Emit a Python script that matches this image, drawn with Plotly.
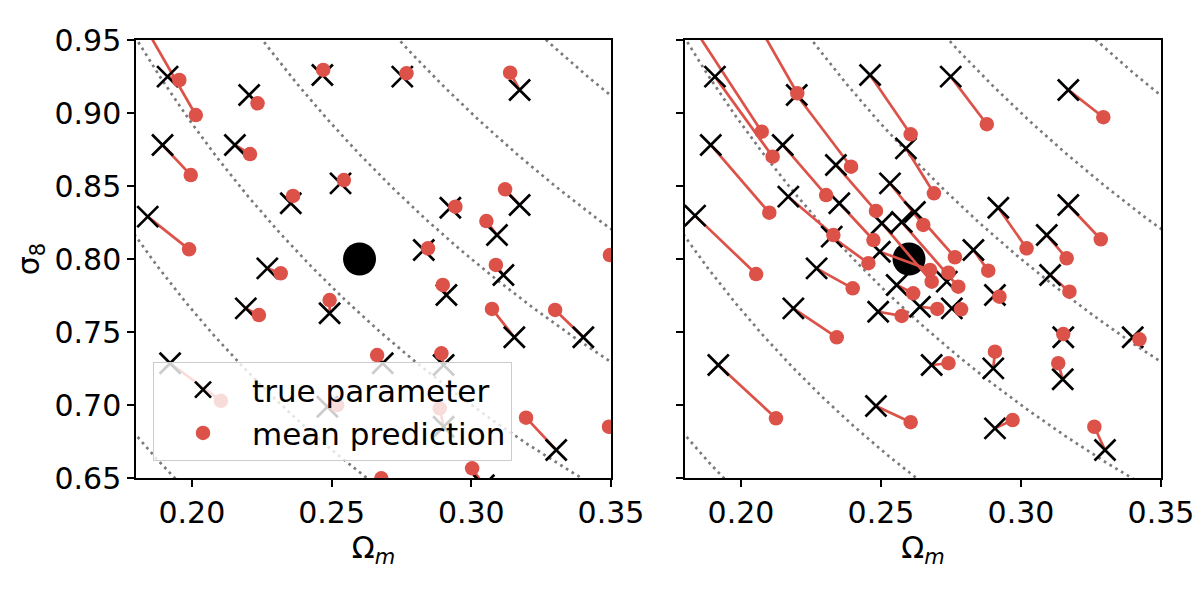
import numpy as np
import plotly.graph_objects as go

# ---------------- data ----------------
# left panel: true parameters and mean predictions
left_true_om = [0.1913, 0.1811, 0.2205, 0.2467, 0.2753, 0.3173, 0.1895, 0.2154, 0.2354, 0.2532,
                0.1842, 0.2925, 0.3173, 0.3092, 0.2830, 0.3600, 0.2270, 0.2193, 0.2493, 0.2911,
                0.3115, 0.3154, 0.3401, 0.1922, 0.2683, 0.2901, 0.2485, 0.2901, 0.3304, 0.3600,
                0.3045, 0.2700]
left_true_s8 = [0.9249, 0.9662, 0.9123, 0.9260, 0.9249, 0.9158, 0.8781, 0.8781, 0.8382, 0.8518,
                0.8290, 0.8351, 0.8370, 0.8164, 0.8062, 0.7900, 0.7936, 0.7662, 0.7628, 0.7753,
                0.7890, 0.7464, 0.7464, 0.7286, 0.7286, 0.7274, 0.6988, 0.6851, 0.6692, 0.6700,
                0.6450, 0.6350]
left_pred_om = [0.1955, 0.2014, 0.2235, 0.2470, 0.2768, 0.3139, 0.1996, 0.2208, 0.2362, 0.2544,
                0.1990, 0.2943, 0.3121, 0.3054, 0.2845, 0.3496, 0.2318, 0.2240, 0.2493, 0.2898,
                0.3088, 0.3074, 0.3300, 0.2104, 0.2663, 0.2893, 0.2520, 0.2887, 0.3196, 0.3493,
                0.3003, 0.2678]
left_pred_s8 = [0.9226, 0.8986, 0.9066, 0.9295, 0.9272, 0.9276, 0.8575, 0.8719, 0.8432, 0.8541,
                0.8066, 0.8358, 0.8477, 0.8260, 0.8073, 0.8027, 0.7902, 0.7616, 0.7719, 0.7822,
                0.7959, 0.7658, 0.7651, 0.7029, 0.7342, 0.7354, 0.7000, 0.6977, 0.6913, 0.6851,
                0.6566, 0.6498]

# right panel: true parameters and mean predictions
right_true_om = [0.1818, 0.1907, 0.2050, 0.2199, 0.2461, 0.2749, 0.3169, 0.1892, 0.2149, 0.2339,
                 0.2589, 0.2532, 0.1836, 0.2169, 0.2351, 0.2919, 0.3169, 0.3092, 0.2830,
                 0.2574, 0.2621, 0.2503, 0.2496, 0.2556, 0.2324, 0.2735, 0.2270, 0.2490, 0.2639,
                 0.2753, 0.2907, 0.3104, 0.2187, 0.3151, 0.3399, 0.1919, 0.2482, 0.2681, 0.2901,
                 0.3149, 0.2907, 0.3300]
right_true_s8 = [0.9623, 0.9249, 0.9644, 0.9123, 0.9260, 0.9249, 0.9158, 0.8781, 0.8781, 0.8644,
                 0.8758, 0.8518, 0.8297, 0.8427, 0.8382, 0.8351, 0.8370, 0.8164, 0.8062,
                 0.8253, 0.8322, 0.8245, 0.8050, 0.7822, 0.8153, 0.7845, 0.7936, 0.7639, 0.7673,
                 0.7662, 0.7753, 0.7890, 0.7662, 0.7464, 0.7464, 0.7274, 0.6993, 0.7274, 0.7251,
                 0.7176, 0.6840, 0.6692]
right_pred_om = [0.2074, 0.2113, 0.2201, 0.2393, 0.2606, 0.2878, 0.3294, 0.2101, 0.2304, 0.2482,
                 0.2689, 0.2651, 0.2054, 0.2330, 0.2473, 0.3020, 0.3285, 0.3163, 0.2883,
                 0.2776, 0.2764, 0.2681, 0.2675, 0.2615, 0.2455, 0.2741, 0.2399, 0.2574, 0.2701,
                 0.2786, 0.2923, 0.3173, 0.2342, 0.3151, 0.3423, 0.2125, 0.2606, 0.2741, 0.2907,
                 0.3133, 0.2970, 0.3262]
right_pred_s8 = [0.8872, 0.8701, 0.9135, 0.8632, 0.8854, 0.8923, 0.8971, 0.8317, 0.8438, 0.8329,
                 0.8450, 0.8233, 0.7897, 0.8164, 0.8130, 0.8073, 0.8135, 0.8005, 0.7920,
                 0.7810, 0.8012, 0.7845, 0.7925, 0.7765, 0.7971, 0.7906, 0.7799, 0.7610, 0.7658,
                 0.7655, 0.7742, 0.7776, 0.7464, 0.7486, 0.7450, 0.6909, 0.6882, 0.7286, 0.7365,
                 0.7286, 0.6897, 0.6851]

fiducial_om = [0.26]
fiducial_s8 = [0.80]

# degeneracy curves  sigma8 * (Om/0.3)^alpha = level
contour_levels = [0.5, 0.6, 0.7, 0.8, 0.9, 1.0]
contour_alpha = 0.6
contour_om_ref = 0.3

x_ticks = [0.20, 0.25, 0.30, 0.35]
y_ticks = [0.65, 0.70, 0.75, 0.80, 0.85, 0.90, 0.95]
x_range = [0.18, 0.35]
y_range = [0.65, 0.95]

RED = "#dc5248"
FONT = "DejaVu Sans"
FS = 30

fig = go.Figure()


def add_panel(true_om, true_s8, pred_om, pred_s8, xa, ya, legend):
    # degeneracy curves
    om_grid = np.linspace(0.17, 0.36, 300)
    for lev in contour_levels:
        fig.add_trace(go.Scatter(
            x=om_grid, y=lev * (om_grid / contour_om_ref) ** (-contour_alpha),
            mode="lines", line=dict(color="#7a7a7a", width=2.7, dash="2.7px,4.0px"),
            showlegend=False, hoverinfo="skip", xaxis=xa, yaxis=ya))
    # fiducial point
    fig.add_trace(go.Scatter(
        x=fiducial_om, y=fiducial_s8, mode="markers",
        marker=dict(color="black", size=33), showlegend=False, xaxis=xa, yaxis=ya))
    # connecting lines
    lx, ly = [], []
    for a, b, c, d in zip(true_om, true_s8, pred_om, pred_s8):
        lx += [a, c, None]
        ly += [b, d, None]
    fig.add_trace(go.Scatter(
        x=lx, y=ly, mode="lines", line=dict(color=RED, width=2.7),
        showlegend=False, hoverinfo="skip", xaxis=xa, yaxis=ya))
    # true parameters
    fig.add_trace(go.Scatter(
        x=true_om, y=true_s8, mode="markers", name="true parameter",
        marker=dict(symbol="x-thin", size=21, color="black",
                    line=dict(color="black", width=2.7)),
        showlegend=legend, xaxis=xa, yaxis=ya))
    # mean predictions
    fig.add_trace(go.Scatter(
        x=pred_om, y=pred_s8, mode="markers", name="mean prediction",
        marker=dict(symbol="circle", size=14.5, color=RED, line=dict(width=0)),
        showlegend=legend, xaxis=xa, yaxis=ya))


add_panel(left_true_om, left_true_s8, left_pred_om, left_pred_s8, "x", "y", True)
add_panel(right_true_om, right_true_s8, right_pred_om, right_pred_s8, "x2", "y2", False)

axis_common = dict(
    showline=True, mirror=True, linecolor="black", linewidth=1.5,
    ticks="outside", ticklen=7, tickwidth=1.5, tickcolor="black",
    showgrid=False, zeroline=False, automargin=False,
    tickfont=dict(family=FONT, size=FS, color="black"),
)

xtitle = "Ω<sub><i>m</i></sub>"

fig.update_layout(
    width=1200, height=600,
    margin=dict(l=136, r=39, t=40, b=122),
    paper_bgcolor="white", plot_bgcolor="white",
    font=dict(family=FONT, size=FS, color="black"),
    xaxis=dict(domain=[0, 0.46341], range=x_range, tickvals=x_ticks, tickformat=".2f",
               title=dict(text=xtitle, font=dict(family=FONT, size=FS), standoff=6),
               **axis_common),
    yaxis=dict(domain=[0, 1], range=y_range, tickvals=y_ticks, tickformat=".2f",
               title=dict(text="σ<sub>8</sub>", font=dict(family=FONT, size=FS), standoff=6),
               **axis_common),
    xaxis2=dict(domain=[0.53561, 1], range=x_range, tickvals=x_ticks, tickformat=".2f",
                title=dict(text=xtitle, font=dict(family=FONT, size=FS), standoff=6),
                anchor="y2", **axis_common),
    yaxis2=dict(domain=[0, 1], range=y_range, tickvals=y_ticks, showticklabels=False,
                anchor="x2", **axis_common),
    legend=dict(x=0.0166, y=0.2648, xanchor="left", yanchor="top",
                bgcolor="rgba(255,255,255,0.8)", bordercolor="#cccccc", borderwidth=1,
                font=dict(family=FONT, size=31, color="black"), itemwidth=88,
                tracegroupgap=0),
    showlegend=True,
)

fig.write_html("out.html")
